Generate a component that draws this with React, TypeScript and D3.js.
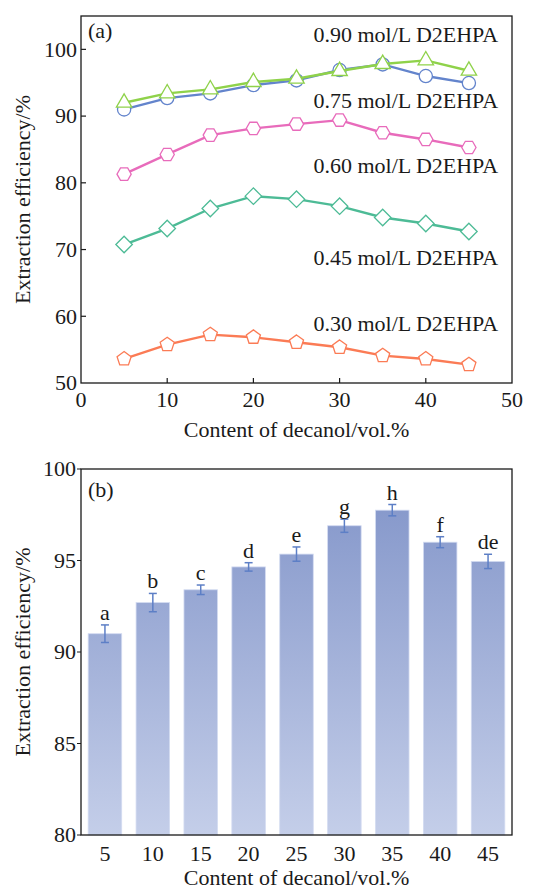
import { useEffect, useRef } from "react"
import * as d3 from "d3"

// decanol content (vol.%)
const contents = [5, 10, 15, 20, 25, 30, 35, 40, 45]

// panel (a): extraction efficiency by D2EHPA concentration
const seriesNames = ["0.30 mol/L D2EHPA", "0.45 mol/L D2EHPA", "0.60 mol/L D2EHPA", "0.75 mol/L D2EHPA", "0.90 mol/L D2EHPA"]
const eff030 = [53.6, 55.75, 57.25, 56.85, 56.1, 55.35, 54.1, 53.6, 52.75]
const eff045 = [70.75, 73.15, 76.15, 78.0, 77.55, 76.5, 74.8, 73.9, 72.7]
const eff060 = [81.3, 84.25, 87.15, 88.15, 88.8, 89.4, 87.5, 86.5, 85.3]
const eff075 = [91.0, 92.7, 93.4, 94.65, 95.35, 96.9, 97.75, 96.0, 94.95]
const eff090 = [92.0, 93.4, 94.0, 95.1, 95.6, 96.75, 97.8, 98.35, 96.8]

// panel (b): 0.75 mol/L, mean with error and significance letters
const barMeans = [91.0, 92.7, 93.4, 94.65, 95.35, 96.9, 97.75, 96.0, 94.95]
const barErrors = [0.48, 0.5, 0.26, 0.23, 0.39, 0.36, 0.31, 0.3, 0.39]
const barLetters = ["a", "b", "c", "d", "e", "g", "h", "f", "de"]

const xTicksA = [0, 10, 20, 30, 40, 50]
const yTicksA = [50, 60, 70, 80, 90, 100]
const yTicksB = [80, 85, 90, 95, 100]

const INK = "#1a1a1a"
const FONT = "'Liberation Serif', 'Times New Roman', serif"
const FS = 22
const COLORS = ["#fb7b55", "#4dbb96", "#e86bbb", "#6384cc", "#8fd24a"]
const ERR = "#5d7fc6"

function markerPath(kind: number, r: number): string {
  // orange pentagon, teal diamond, pink hexagon, blue circle, green triangle
  const poly = (n: number, rot: number, rr: number) => {
    const pts = d3.range(n).map((i) => {
      const a = rot + (i * 2 * Math.PI) / n
      return [rr * Math.cos(a), rr * Math.sin(a)]
    })
    return "M" + pts.map((p) => p.join(",")).join("L") + "Z"
  }
  if (kind === 0) return poly(5, -Math.PI / 2, r * 1.12)
  if (kind === 1) return poly(4, -Math.PI / 2, r * 1.25)
  if (kind === 2) return poly(6, 0, r * 1.08)
  if (kind === 3) return d3.symbol(d3.symbolCircle, Math.PI * r * r)() ?? ""
  return poly(3, -Math.PI / 2, r * 1.35)
}

export default function App() {
  const ref = useRef<SVGSVGElement>(null)

  useEffect(() => {
    if (!ref.current) return
    const svg = d3.select(ref.current)
    svg.selectAll("*").remove()

    const txt = (g: d3.Selection<SVGGElement, unknown, null, undefined>) =>
      g.append("text").attr("font-family", FONT).attr("font-size", FS).attr("fill", INK)

    // ---------- panel (a) ----------
    const A = { left: 81, right: 512, top: 16, bottom: 383 }
    const xA = d3.scaleLinear().domain([0, 50]).range([A.left, A.right])
    const yA = d3.scaleLinear().domain([50, 105]).range([A.bottom, A.top])

    const ga = svg.append("g")
    ga.append("rect")
      .attr("x", A.left)
      .attr("y", A.top)
      .attr("width", A.right - A.left)
      .attr("height", A.bottom - A.top)
      .attr("fill", "none")
      .attr("stroke", INK)
      .attr("stroke-width", 1.3)

    ga.selectAll("line.xt")
      .data(xTicksA.slice(1, -1))
      .join("line")
      .attr("x1", (d) => xA(d))
      .attr("x2", (d) => xA(d))
      .attr("y1", A.bottom)
      .attr("y2", A.bottom - 5)
      .attr("stroke", INK)
      .attr("stroke-width", 1.2)
    ga.selectAll("line.yt")
      .data(yTicksA.slice(1))
      .join("line")
      .attr("x1", A.left)
      .attr("x2", A.left + 5)
      .attr("y1", (d) => yA(d))
      .attr("y2", (d) => yA(d))
      .attr("stroke", INK)
      .attr("stroke-width", 1.2)

    ga.selectAll("text.xl")
      .data(xTicksA)
      .join("text")
      .attr("x", (d) => xA(d))
      .attr("y", A.bottom + 24)
      .attr("text-anchor", "middle")
      .attr("font-family", FONT)
      .attr("font-size", FS)
      .attr("fill", INK)
      .text((d) => d)
    ga.selectAll("text.yl")
      .data(yTicksA)
      .join("text")
      .attr("x", A.left - 4)
      .attr("y", (d) => yA(d))
      .attr("dy", "0.33em")
      .attr("text-anchor", "end")
      .attr("font-family", FONT)
      .attr("font-size", FS)
      .attr("fill", INK)
      .text((d) => d)

    txt(ga)
      .attr("x", (A.left + A.right) / 2)
      .attr("y", A.bottom + 54)
      .attr("text-anchor", "middle")
      .text("Content of decanol/vol.%")
    txt(ga)
      .attr("transform", `translate(30, ${(A.top + A.bottom) / 2}) rotate(-90)`)
      .attr("text-anchor", "middle")
      .text("Extraction efficiency/%")
    txt(ga).attr("x", A.left + 7).attr("y", A.top + 22).text("(a)")

    const allSeries = [eff030, eff045, eff060, eff075, eff090]
    const line = d3
      .line<number>()
      .x((_, i) => xA(contents[i]))
      .y((d) => yA(d))

    allSeries.forEach((vals, k) => {
      const g = ga.append("g")
      g.append("path")
        .attr("d", line(vals))
        .attr("fill", "none")
        .attr("stroke", COLORS[k])
        .attr("stroke-width", 2.4)
      g.selectAll("path.m")
        .data(vals)
        .join("path")
        .attr("transform", (d, i) => `translate(${xA(contents[i])},${yA(d)})`)
        .attr("d", markerPath(k, 6.6))
        .attr("fill", "#fff")
        .attr("stroke", COLORS[k])
        .attr("stroke-width", 1.3)
    })

    // series labels, right aligned inside the plot, next to each curve
    const labelValues = [57.85, 67.65, 81.45, 91.2, 101.1]
    seriesNames.forEach((name, k) => {
      txt(ga)
        .attr("x", xA(48.4))
        .attr("y", yA(labelValues[k]))
        .attr("text-anchor", "end")
        .text(name)
    })

    // ---------- panel (b) ----------
    const B = { left: 81, right: 512, top: 469, bottom: 835 }
    const xB = d3
      .scaleBand<number>()
      .domain(contents)
      .range([B.left, B.right])
      .paddingInner(0.3)
      .paddingOuter(0.15)
    const yB = d3.scaleLinear().domain([80, 100]).range([B.bottom, B.top])

    const defs = svg.append("defs")
    const grad = defs
      .append("linearGradient")
      .attr("id", "barGrad")
      .attr("gradientUnits", "userSpaceOnUse")
      .attr("x1", 0)
      .attr("x2", 0)
      .attr("y1", B.top)
      .attr("y2", B.bottom)
    grad.append("stop").attr("offset", "0%").attr("stop-color", "#8093c8")
    grad.append("stop").attr("offset", "100%").attr("stop-color", "#c4cee9")

    const gb = svg.append("g")
    gb.selectAll("rect.bar")
      .data(barMeans)
      .join("rect")
      .attr("x", (_, i) => xB(contents[i]) ?? 0)
      .attr("y", (d) => yB(d))
      .attr("width", xB.bandwidth())
      .attr("height", (d) => B.bottom - yB(d))
      .attr("fill", "url(#barGrad)")
      .attr("stroke", "#d3dbf1")
      .attr("stroke-width", 0.8)

    const errG = gb.append("g").attr("stroke", ERR).attr("stroke-width", 1.5)
    barMeans.forEach((m, i) => {
      const cx = (xB(contents[i]) ?? 0) + xB.bandwidth() / 2
      const y1 = yB(m + barErrors[i])
      const y2 = yB(m - barErrors[i])
      errG.append("line").attr("x1", cx).attr("x2", cx).attr("y1", y1).attr("y2", y2)
      errG.append("line").attr("x1", cx - 4).attr("x2", cx + 4).attr("y1", y1).attr("y2", y1)
      errG.append("line").attr("x1", cx - 4).attr("x2", cx + 4).attr("y1", y2).attr("y2", y2)
      txt(gb)
        .attr("x", cx)
        .attr("y", y1 - 5)
        .attr("text-anchor", "middle")
        .text(barLetters[i])
    })

    gb.append("rect")
      .attr("x", B.left)
      .attr("y", B.top)
      .attr("width", B.right - B.left)
      .attr("height", B.bottom - B.top)
      .attr("fill", "none")
      .attr("stroke", INK)
      .attr("stroke-width", 1.3)

    gb.selectAll("line.yt")
      .data(yTicksB)
      .join("line")
      .attr("x1", B.left - 4)
      .attr("x2", B.left)
      .attr("y1", (d) => yB(d))
      .attr("y2", (d) => yB(d))
      .attr("stroke", INK)
      .attr("stroke-width", 1)
    gb.selectAll("text.yl")
      .data(yTicksB)
      .join("text")
      .attr("x", B.left - 5)
      .attr("y", (d) => yB(d))
      .attr("dy", "0.33em")
      .attr("text-anchor", "end")
      .attr("font-family", FONT)
      .attr("font-size", FS)
      .attr("fill", INK)
      .text((d) => d)
    gb.selectAll("text.xl")
      .data(contents)
      .join("text")
      .attr("x", (d) => (xB(d) ?? 0) + xB.bandwidth() / 2)
      .attr("y", B.bottom + 26)
      .attr("text-anchor", "middle")
      .attr("font-family", FONT)
      .attr("font-size", FS)
      .attr("fill", INK)
      .text((d) => d)

    txt(gb)
      .attr("x", (B.left + B.right) / 2)
      .attr("y", B.bottom + 50)
      .attr("text-anchor", "middle")
      .text("Content of decanol/vol.%")
    txt(gb)
      .attr("transform", `translate(30, ${(B.top + B.bottom) / 2}) rotate(-90)`)
      .attr("text-anchor", "middle")
      .text("Extraction efficiency/%")
    txt(gb).attr("x", B.left + 7).attr("y", B.top + 28).text("(b)")
  }, [])

  return (
    <svg
      ref={ref}
      width={550}
      height={891}
      style={{ position: "absolute", left: 0, top: 0, background: "#fff" }}
    />
  )
}
